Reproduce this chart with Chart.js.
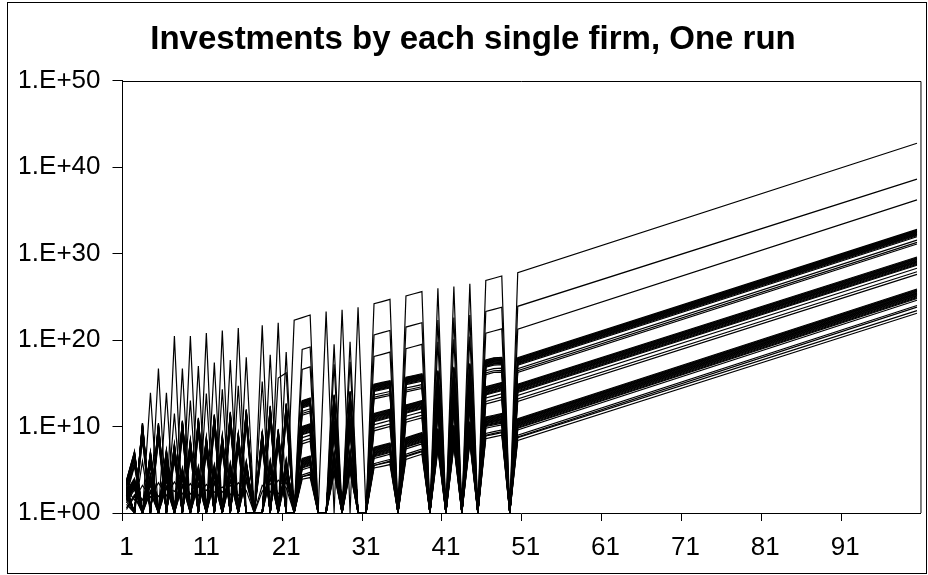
<!DOCTYPE html>
<html>
<head>
<meta charset="utf-8">
<script src="https://cdn.jsdelivr.net/npm/chart.js@4/dist/chart.umd.min.js"></script>
<style>
  html, body { margin: 0; padding: 0; background: #fff; }
  #wrap { width: 928px; height: 575px; position: relative; }
</style>
</head>
<body>
<div id="wrap"><canvas id="c" width="928" height="575"></canvas></div>
<script>
// ---- categories (periods) ----
const periods = Array.from({ length: 100 }, (_, i) => String(i + 1));
const xTickLabels = ['1', '11', '21', '31', '41', '51', '61', '71', '81', '91'];
const yTicks = [1e0, 1e10, 1e20, 1e30, 1e40, 1e50];
const yTickLabels = ['1.E+00', '1.E+10', '1.E+20', '1.E+30', '1.E+40', '1.E+50'];

// ---- values: log10(investment) for periods 1..50 (0 = nothing invested, drawn on the axis) ----
const firmA = [3.0, 0, 10.4, 0, 16.7, 0, 20.45, 0, 20.45, 0,
  20.8, 0, 21.1, 0, 21.4, 0, 0, 21.7, 0, 22.0,
  0, 22.3, 22.6, 22.9, 0, 23.3, 0, 23.5, 0, 23.8,
  0, 24.2, 24.45, 24.7, 0, 25.1, 25.35, 25.6, 0, 26.0,
  0, 26.2, 0, 26.5, 0, 26.9, 27.15, 27.4, 0, 27.8];
const firmB = [2.0, 7.1, 0, 13.9, 0, 13.9, 0, 16.7, 0, 17.0,
  0, 17.4, 0, 17.7, 0, 18.0, 0, 0, 18.3, 0,
  18.6, 0, 18.9, 19.2, 0, 0, 19.5, 0, 19.8, 0,
  0, 20.6, 20.85, 21.1, 0, 21.5, 21.75, 22.0, 0, 22.3,
  0, 22.6, 0, 22.9, 0, 23.3, 23.55, 23.8, 0, 23.9];
const firmC = [2.5, 0, 6.0, 0, 9.0, 0, 11.5, 0, 13.0, 0,
  13.8, 0, 14.3, 0, 14.7, 0, 0, 15.2, 0, 15.6,
  16.2, 0, 16.6, 16.9, 0, 0, 17.2, 0, 17.5, 0,
  0, 18.1, 18.35, 18.6, 0, 19.0, 19.25, 19.5, 0, 19.8,
  0, 20.1, 0, 20.4, 0, 20.8, 21.05, 21.3, 0, 21.25];
// bundles: upper edge of each band of firms
const bundle1 = [3.8, 7.1, 0, 7.1, 0, 7.3, 0, 10.7, 0, 11.0,
  0, 11.4, 0, 11.7, 0, 12.0, 0, 0, 12.4, 0,
  12.7, 0, 13.0, 13.3, 0, 0, 13.7, 0, 14.1, 0,
  0, 14.9, 15.1, 15.3, 0, 15.7, 15.9, 16.1, 0, 16.5,
  0, 16.9, 0, 17.3, 0, 17.7, 17.95, 18.0, 0, 17.95];
const bundle2 = [3.0, 0, 10.4, 0, 10.4, 0, 8.0, 0, 8.5, 0,
  8.8, 0, 9.0, 0, 9.3, 0, 0, 9.5, 0, 9.7,
  0, 0, 10.0, 10.3, 0, 0, 10.7, 0, 11.0, 0,
  0, 11.5, 11.75, 12.0, 0, 12.5, 12.75, 13.0, 0, 13.4,
  0, 13.8, 0, 14.2, 0, 14.6, 14.85, 15.1, 0, 14.9];
const bundle3 = [2.5, 4.0, 0, 4.5, 0, 5.0, 0, 5.2, 0, 5.4,
  0, 5.6, 0, 5.8, 0, 6.0, 0, 0, 6.1, 0,
  6.2, 0, 6.3, 6.6, 0, 0, 7.0, 0, 7.2, 0,
  0, 7.6, 7.85, 8.1, 0, 8.7, 9.0, 9.3, 0, 9.8,
  0, 10.2, 0, 10.6, 0, 11.1, 11.3, 11.5, 0, 10.9];
// firms that stay at low levels in the first periods
const lowFirms = [
  [2.8, 1.5, 3.2, 1.8, 3.5, 2.0, 3.6, 2.2, 3.4, 2.0, 3.3, 2.4, 3.0, 2.1, 3.5, 2.6, 0, 3.2, 2.4, 3.8, 2.9, 0, 4.2, 4.4, 0, 0, 4.8, 0, 5.0, 0,
   0, 5.5, 5.7, 5.9, 0, 6.5, 6.8, 7.1, 0, 7.6, 0, 8.0, 0, 8.4, 0, 8.9, 9.1, 9.3, 0, 8.7],
  [1.8, 3.0, 1.5, 3.4, 1.9, 3.1, 2.5, 3.7, 2.2, 3.0, 2.6, 3.5, 2.4, 3.2, 2.0, 3.6, 0, 2.5, 3.4, 2.2, 3.6, 0, 3.9, 4.1, 0, 0, 4.5, 0, 4.7, 0,
   0, 5.2, 5.4, 5.6, 0, 6.2, 6.5, 6.8, 0, 7.3, 0, 7.7, 0, 8.1, 0, 8.6, 8.8, 9.0, 0, 8.4]
];
// values read at period 100 (the lines run straight from period 50 to 100)
const endA = 42.75, endB = 38.6, endC = 36.2;
const end1 = 32.8, end2 = 29.6, end3 = 25.9;
const endLow = [23.4, 23.1];
// spread of the firms below each band's upper edge (log10)
const offsets1 = [0, -0.07, -0.14, -0.21, -0.28, -0.35, -0.42, -0.5, -0.58, -0.66, -0.74, -0.85, -1.25, -1.5, -1.7];
const offsets2 = [0, -0.08, -0.16, -0.24, -0.32, -0.4, -0.48, -0.56, -0.65, -0.75, -0.85, -0.95, -1.3, -1.7, -2.0];
const offsets3 = [0, -0.08, -0.16, -0.24, -0.32, -0.4, -0.48, -0.56, -0.64, -0.72, -0.8, -0.9, -1.0, -1.1, -1.3, -1.9, -2.1];

// ---- build the data table ----
function series(first, last, off) {
  const out = [];
  for (const v of first) out.push(v > 0 ? Math.pow(10, Math.max(0, v + off)) : 1);
  while (out.length < periods.length - 1) out.push(null);
  out.push(Math.pow(10, last + off));
  return out;
}
const datasets = [];
function add(first, last, off) {
  datasets.push({
    data: series(first, last, off),
    borderColor: '#000', borderWidth: 1.2, pointRadius: 0,
    fill: false, tension: 0, spanGaps: true
  });
}
add(firmA, endA, 0);
add(firmB, endB, 0);
add(firmC, endC, 0);
offsets1.forEach(o => add(bundle1, end1, o));
offsets2.forEach(o => add(bundle2, end2, o));
offsets3.forEach(o => add(bundle3, end3, o));
lowFirms.forEach((f, i) => add(f, endLow[i], 0));

const frame = {
  id: 'frame',
  afterDraw(chart) {
    const ctx = chart.ctx, a = chart.chartArea;
    ctx.save();
    ctx.strokeStyle = '#000';
    ctx.lineWidth = 1;
    ctx.strokeRect(7.5, 2.5, 919, 571);
    ctx.beginPath();
    ctx.moveTo(a.left, Math.round(a.top) + 0.5);
    ctx.lineTo(a.right, Math.round(a.top) + 0.5);
    ctx.lineTo(a.right, a.bottom);
    ctx.stroke();
    ctx.restore();
  }
};

const FONT = 'Liberation Sans, Arial, sans-serif';
new Chart(document.getElementById('c'), {
  type: 'line',
  data: { labels: periods, datasets },
  options: {
    responsive: false,
    animation: false,
    events: [],
    layout: { padding: { left: 20, right: 2, top: 0, bottom: 0 } },
    plugins: {
      legend: { display: false },
      tooltip: { enabled: false },
      title: {
        display: true,
        text: 'Investments by each single firm, One run',
        color: '#000',
        font: { family: FONT, size: 33, weight: 'bold' },
        padding: { top: 20, bottom: 21 }
      }
    },
    scales: {
      x: {
        type: 'category',
        offset: true,
        afterFit(s) { s.height = 62; },
        grid: {
          offset: true,
          drawOnChartArea: false,
          drawTicks: true,
          tickLength: 8,
          tickColor: c => (c.index % 10 === 0 ? '#000' : 'rgba(0,0,0,0)'),
          tickWidth: 1
        },
        border: { display: true, color: '#000', width: 1 },
        ticks: {
          autoSkip: false, maxRotation: 0, minRotation: 0,
          color: '#000', padding: 11,
          font: { family: FONT, size: 26 },
          callback: (v, i) => (i % 10 === 0 ? xTickLabels[i / 10] : '')
        }
      },
      y: {
        type: 'logarithmic',
        min: 1, max: 1e50,
        afterFit(s) { s.width = 102.5; },
        afterBuildTicks(s) { s.ticks = yTicks.map(v => ({ value: v })); },
        grid: { drawOnChartArea: false, drawTicks: true, tickLength: 10, tickColor: '#000' },
        border: { display: true, color: '#000', width: 1 },
        ticks: {
          color: '#000', padding: 12,
          font: { family: FONT, size: 26 },
          callback: (v, i) => yTickLabels[i]
        }
      }
    }
  },
  plugins: [frame]
});
</script>
</body>
</html>
